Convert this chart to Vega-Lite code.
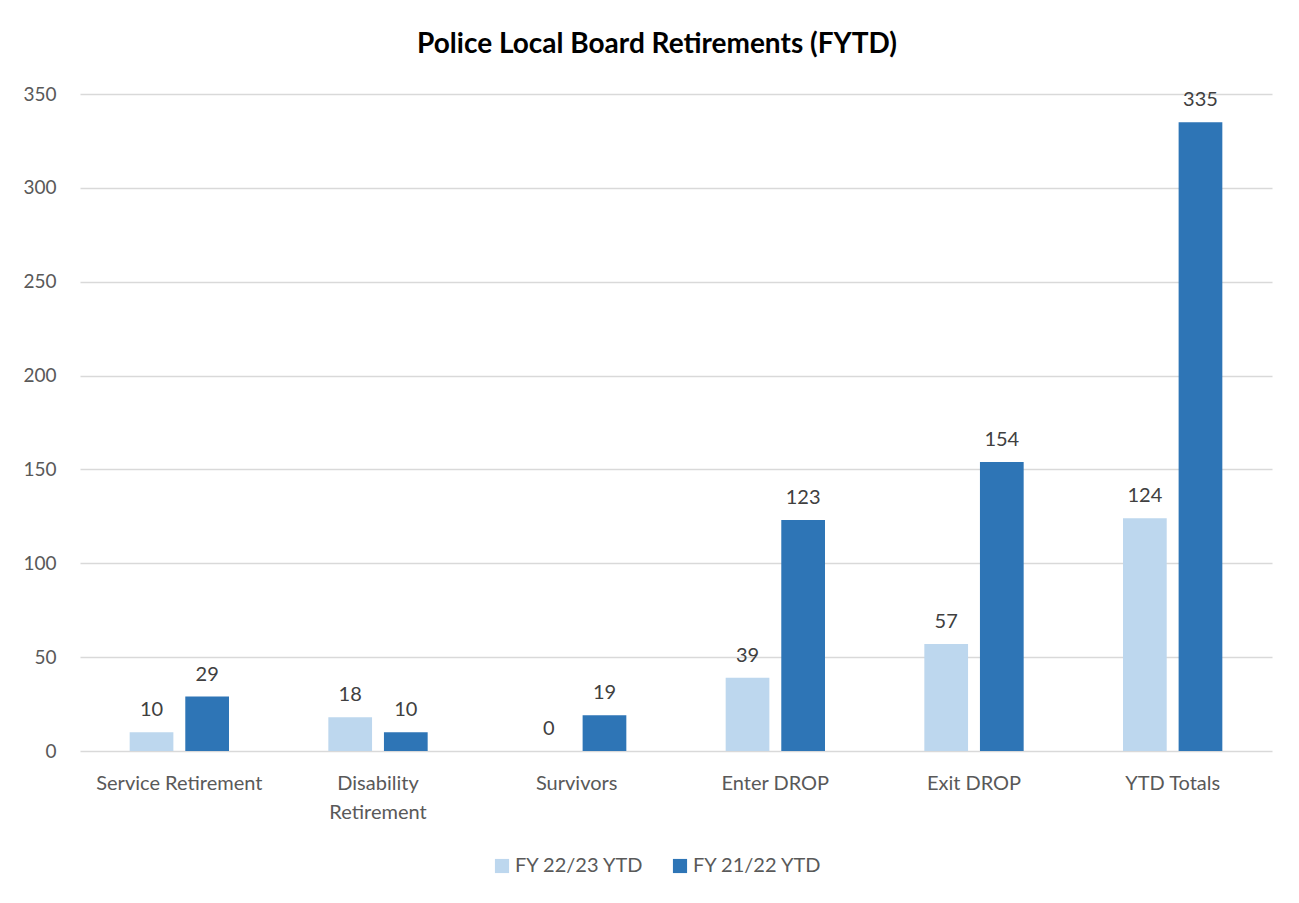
{
  "$schema": "https://vega.github.io/schema/vega-lite/v6.json",
  "autosize": {"type": "none"},
  "width": 1192,
  "height": 657,
  "padding": {"left": 80, "top": 94, "right": 27, "bottom": 152},
  "background": "white",
  "config": {
    "font": "Lato",
    "view": {"stroke": null}
  },
  "title": {
    "text": "Police Local Board Retirements (FYTD)",
    "fontSize": 28,
    "fontWeight": "bold",
    "color": "#000000",
    "anchor": "middle",
    "dx": -19,
    "baseline": "alphabetic",
    "offset": 4
  },
  "data": {
    "values": [
      {"category": "Service Retirement", "series": "FY 22/23 YTD", "value": 10},
      {"category": "Service Retirement", "series": "FY 21/22 YTD", "value": 29},
      {"category": "Disability Retirement", "series": "FY 22/23 YTD", "value": 18},
      {"category": "Disability Retirement", "series": "FY 21/22 YTD", "value": 10},
      {"category": "Survivors", "series": "FY 22/23 YTD", "value": 0},
      {"category": "Survivors", "series": "FY 21/22 YTD", "value": 19},
      {"category": "Enter DROP", "series": "FY 22/23 YTD", "value": 39},
      {"category": "Enter DROP", "series": "FY 21/22 YTD", "value": 123},
      {"category": "Exit DROP", "series": "FY 22/23 YTD", "value": 57},
      {"category": "Exit DROP", "series": "FY 21/22 YTD", "value": 154},
      {"category": "YTD Totals", "series": "FY 22/23 YTD", "value": 124},
      {"category": "YTD Totals", "series": "FY 21/22 YTD", "value": 335}
    ]
  },
  "encoding": {
    "x": {
      "field": "category",
      "type": "nominal",
      "sort": null,
      "scale": {"paddingInner": 0.5, "paddingOuter": 0.25},
      "axis": {
        "title": null,
        "labelAngle": 0,
        "labelFontSize": 20,
        "labelColor": "#595959",
        "labelPadding": 32,
        "labelBaseline": "middle",
        "labelLineHeight": 29,
        "ticks": false,
        "domain": false,
        "grid": false,
        "labelExpr": "datum.label == 'Disability Retirement' ? ['Disability', 'Retirement'] : datum.label"
      }
    },
    "xOffset": {
      "field": "series",
      "type": "nominal",
      "sort": ["FY 22/23 YTD", "FY 21/22 YTD"],
      "scale": {"paddingInner": 0.214}
    },
    "y": {
      "field": "value",
      "type": "quantitative",
      "scale": {"domain": [0, 350]},
      "axis": {
        "title": null,
        "values": [0, 50, 100, 150, 200, 250, 300, 350],
        "labelFontSize": 19,
        "labelColor": "#595959",
        "labelPadding": 24,
        "ticks": false,
        "domain": false,
        "gridColor": "#D9D9D9",
        "gridWidth": 1.3
      }
    }
  },
  "layer": [
    {
      "mark": {"type": "bar"},
      "encoding": {
        "color": {
          "field": "series",
          "type": "nominal",
          "sort": ["FY 22/23 YTD", "FY 21/22 YTD"],
          "scale": {"domain": ["FY 22/23 YTD", "FY 21/22 YTD"], "range": ["#BDD7EE", "#2E75B6"]},
          "legend": {
            "title": null,
            "orient": "none",
            "direction": "horizontal",
            "legendX": 412,
            "legendY": 762,
            "symbolType": "square",
            "symbolSize": 200,
            "symbolStrokeWidth": 0,
            "labelFontSize": 20,
            "labelColor": "#595959",
            "labelOffset": 3,
            "columnPadding": 26
          }
        }
      }
    },
    {
      "mark": {"type": "text", "baseline": "bottom", "dy": -12, "fontSize": 20, "color": "#404040"},
      "encoding": {
        "text": {"field": "value", "type": "quantitative"}
      }
    }
  ]
}
